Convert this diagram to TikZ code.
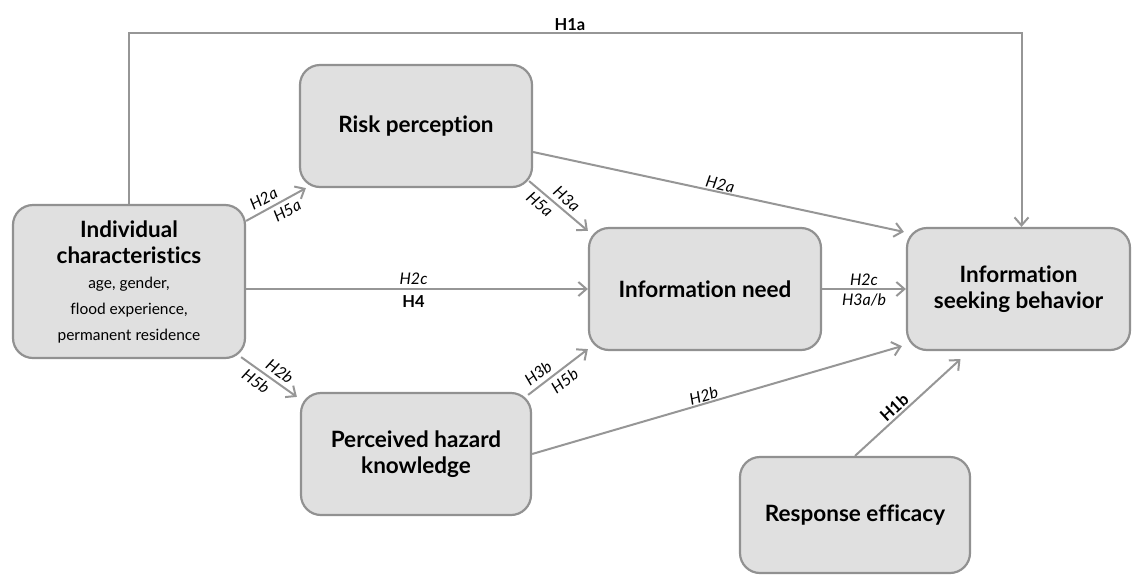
\documentclass[tikz,border=0pt]{standalone}
\usepackage{fontspec}
\setmainfont{Lato}[Ligatures={NoCommon,NoRare,NoContextual}]
\usetikzlibrary{arrows.meta,calc}
\definecolor{boxfill}{RGB}{224,224,224}
\definecolor{boxline}{RGB}{145,145,145}
\definecolor{linecol}{RGB}{150,150,150}
\newcommand{\smalltxt}{\fontsize{15.5}{20}\selectfont\mdseries}
\begin{document}
\begin{tikzpicture}[x=1pt,y=-1pt,
  box/.style={draw=boxline,fill=boxfill,line width=2.2pt,rounded corners=20pt,
    align=center,font=\fontsize{22.5}{26}\selectfont\bfseries,inner sep=0pt},
  conn/.style={draw=linecol,line width=2pt,-{Straight Barb[length=8pt,width=14pt,line width=2pt]}},
  lab/.style={font=\fontsize{16}{18}\selectfont\itshape,inner sep=1pt},
  blab/.style={font=\fontsize{16.5}{18}\selectfont\bfseries,inner sep=3pt}]
\useasboundingbox (0,0) rectangle (1132,576);
\node[box,minimum width=232pt,minimum height=153pt] (ind) at (129,281.5)
  {Individual\\characteristics\\[-1pt]\smalltxt age, gender,\\\smalltxt flood experience,\\\smalltxt permanent residence};
\node[box,minimum width=232pt,minimum height=122pt] (risk) at (416,126) {Risk perception};
\node[box,minimum width=232pt,minimum height=122pt] (need) at (705,289) {Information need};
\node[box,minimum width=223pt,minimum height=122pt] (seek) at (1018.5,289) {Information\\seeking behavior};
\node[box,minimum width=230pt,minimum height=122pt] (perc) at (416,454) {Perceived hazard\\knowledge};
\node[box,minimum width=230pt,minimum height=116pt] (resp) at (855,515) {Response efficacy};
\coordinate (top) at (570,33);
% H1a
\draw[conn] (ind.north) |- (top) -| ($(seek.north)+(3,0)$);
\node[blab,above,inner sep=2pt] (h1a) at (top) {H1a};
% ind -> risk
\draw[conn] ($(ind.north east)+(0,17)$) -- node[lab,above=3pt,sloped,pos=0.38]{H2a} node[lab,below=3pt,sloped,pos=0.6]{H5a} ($(risk.south west)+(7,0)$);
% risk -> need
\draw[conn] ($(risk.south east)+(-4,-7)$) -- node[lab,above=3pt,sloped,pos=0.52]{H3a} node[lab,below=3pt,sloped,pos=0.3]{H5a} ($(need.north west)+(0,4)$);
% ind -> need
\draw[conn] (ind.east |- need.west) -- node[lab,above,pos=0.49,inner sep=3pt]{H2c} node[blab,below,pos=0.49,yshift=-3pt]{H4} (need.west);
% ind -> perc
\draw[conn] ($(ind.south east)+(-5,-2)$) -- node[lab,above=3pt,sloped,pos=0.58]{H2b} node[lab,below=3pt,sloped,pos=0.38]{H5b} ($(perc.north west)+(-3,5)$);
% perc -> need
\draw[conn] ($(perc.north east)+(-4,3)$) -- node[lab,above=3pt,sloped,pos=0.28]{H3b} node[lab,below=3pt,sloped,pos=0.5]{H5b} ($(need.south west)+(0,-2)$);
% risk -> seek
\draw[conn] ($(risk.east)+(0,26)$) -- node[lab,above,sloped,pos=0.5]{H2a} ($(seek.north west)+(-2,5)$);
% need -> seek
\draw[conn] (need.east) -- node[lab,above,inner sep=2pt]{H2c} node[lab,below,inner sep=4pt]{H3a/b} (seek.west);
% perc -> seek
\draw[conn] (perc.east) -- node[lab,above,sloped,pos=0.47]{H2b} ($(seek.south west)+(-4,-5)$);
% resp -> seek
\draw[conn] (resp.north) -- node[blab,above,sloped,pos=0.43,inner sep=2pt]{H1b} ($(seek.south)+(-58,8)$);
\end{tikzpicture}
\end{document}
